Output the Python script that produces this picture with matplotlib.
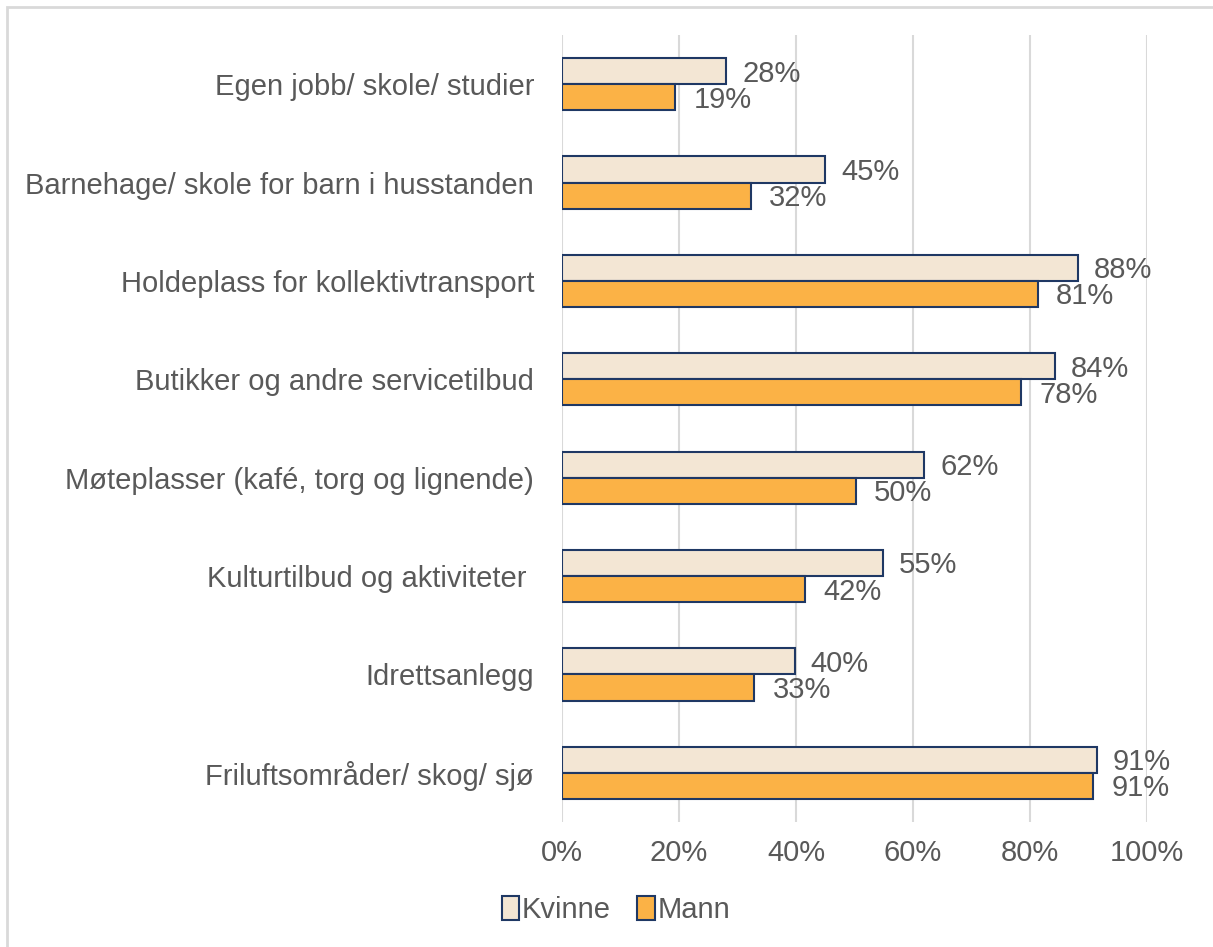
import numpy as np
import matplotlib.pyplot as plt
from matplotlib.patches import Rectangle

plt.rcParams['font.family'] = ['Liberation Sans', 'DejaVu Sans']

categories = ['Egen jobb/ skole/ studier',
              'Barnehage/ skole for barn i husstanden',
              'Holdeplass for kollektivtransport',
              'Butikker og andre servicetilbud',
              'Møteplasser (kafé, torg og lignende)',
              'Kulturtilbud og aktiviteter ',
              'Idrettsanlegg',
              'Friluftsområder/ skog/ sjø']
kvinne = [0.281, 0.450, 0.882, 0.843, 0.619, 0.548, 0.398, 0.914]
mann = [0.194, 0.323, 0.813, 0.785, 0.502, 0.416, 0.329, 0.908]
x_ticks = [0, 0.2, 0.4, 0.6, 0.8, 1.0]
x_labels = ['0%', '20%', '40%', '60%', '80%', '100%']

txt = '#595959'
edge = '#1F3864'
c_kv = '#F3E6D4'
c_ma = '#FBB246'
fs = 21

fig = plt.figure(figsize=(12.13, 9.47), dpi=100)
ax = fig.add_axes([562/1213, 1-822/947, (1147-562)/1213, (822-35)/947])

y = np.arange(len(categories))
h = 0.266
b1 = ax.barh(y - h/2, kvinne, height=h, color=c_kv, edgecolor=edge, linewidth=1.5, label='Kvinne', zorder=3)
b2 = ax.barh(y + h/2, mann, height=h, color=c_ma, edgecolor=edge, linewidth=1.5, label='Mann', zorder=3)

# labels: digits centred on the bar, baseline half a digit height below centre
for i in range(len(categories)):
    ax.annotate(f'{round(kvinne[i]*100):d}%', (kvinne[i], y[i] - h/2), xytext=(11.5, -7.5),
                textcoords='offset points', va='baseline', ha='left', fontsize=fs, color=txt)
    ax.annotate(f'{round(mann[i]*100):d}%', (mann[i], y[i] + h/2), xytext=(13, -7.5),
                textcoords='offset points', va='baseline', ha='left', fontsize=fs, color=txt)

ax.set_xlim(0, 1)
ax.set_ylim(len(categories) - 0.5, -0.5)
ax.set_xticks(x_ticks)
ax.set_xticklabels(x_labels)
ax.set_yticks(y)
ax.set_yticklabels(categories)
ax.tick_params(axis='both', length=0, labelsize=fs, labelcolor=txt)
ax.tick_params(axis='x', pad=12)
ax.tick_params(axis='y', pad=20)
ax.grid(axis='x', color='#D9D9D9', linewidth=1.5, zorder=0)
for s in ax.spines.values():
    s.set_visible(False)

leg = fig.legend(handles=[b1, b2], loc='center', ncol=2, frameon=False, fontsize=fs,
                 handlelength=0.6, handleheight=0.9, handletextpad=0.1,
                 columnspacing=0.9, borderaxespad=0,
                 bbox_to_anchor=(616/1213, 1-910/947))
for t in leg.get_texts():
    t.set_color(txt)

fig.patches.append(Rectangle((7/1213, -0.1), 1.2, 1-7/947+0.1, transform=fig.transFigure,
                             fill=False, edgecolor='#D9D9D9', linewidth=2))

fig.savefig('out.png', dpi=100)
